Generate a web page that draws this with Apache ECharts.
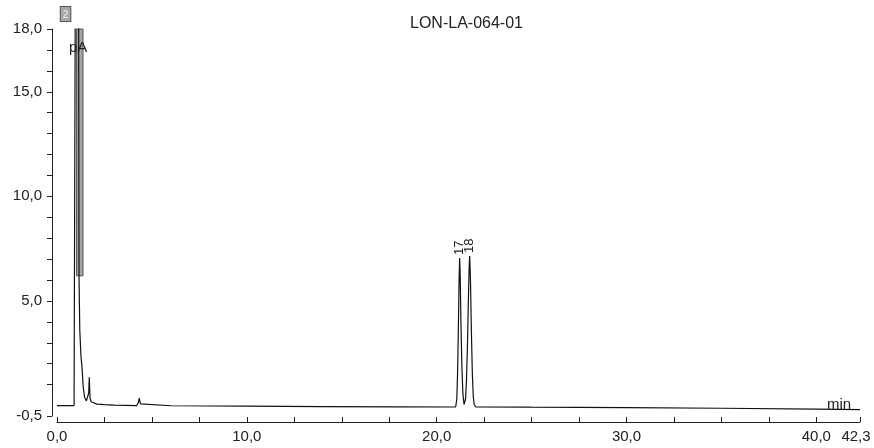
<!DOCTYPE html>
<html>
<head>
<meta charset="utf-8">
<script src="https://cdn.jsdelivr.net/npm/echarts@6/dist/echarts.min.js"></script>
<style>
  html, body { margin: 0; padding: 0; background: #fff; }
  #chart { width: 874px; height: 448px; }
</style>
</head>
<body>
<div id="chart"></div>
<script>
// chromatogram trace: [time (min), signal (pA)]
const trace = [
  [0.0, 0.0], [0.9, 0.0], [0.94, 0.05], [0.96, 19.0], [1.14, 19.0], [1.16, 6.2],
  [1.2, 3.6], [1.26, 2.4], [1.32, 1.8], [1.38, 0.9], [1.45, 0.4], [1.55, 0.22],
  [1.62, 0.3], [1.67, 0.6], [1.7, 1.35], [1.74, 0.35], [1.8, 0.18], [1.9, 0.12],
  [2.1, 0.07], [2.5, 0.04], [3.0, 0.02], [4.2, 0.0], [4.28, 0.12], [4.33, 0.36],
  [4.4, 0.08], [4.5, 0.0], [6.0, -0.01], [10.0, -0.03], [14.0, -0.05], [18.0, -0.06],
  [21.0, -0.07], [21.06, 0.3], [21.1, 1.5], [21.14, 3.5], [21.18, 6.0], [21.21, 7.05],
  [21.24, 6.2], [21.28, 3.9], [21.33, 1.8], [21.38, 0.6], [21.44, 0.05], [21.47, -0.03],
  [21.52, 0.3], [21.57, 1.2], [21.62, 2.8], [21.67, 5.0], [21.71, 6.6], [21.74, 7.15],
  [21.78, 6.0], [21.83, 3.5], [21.88, 1.5], [21.93, 0.4], [21.98, 0.05], [22.05, -0.06],
  [25.0, -0.08], [30.0, -0.1], [35.0, -0.13], [40.0, -0.17], [42.3, -0.2]
]

// labelled peaks
const peakNames = ['17', '18']
const peakTimes = [21.21, 21.74]
const peakHeights = [7.05, 7.15]

// saturated solvent peak band (time range, signal range)
const solventBand = [[1.03, 6.2], [1.37, 18.0]]

// axes
const xMin = 0
const xMax = 42.3
const yMin = -0.5
const yMax = 18
const xLabels = [0, 10, 20, 30, 40, 42.3]
const xTicks = [0, 2.5, 5, 7.5, 10, 12.5, 15, 17.5, 20, 22.5, 25, 27.5, 30, 32.5, 35, 37.5, 40, 42.3]
const yLabels = [-0.5, 5, 10, 15, 18]
const yTicks = [-0.5, 1, 2, 3, 4, 5, 6, 7, 8, 9, 10, 11, 12, 13, 14, 15, 16, 17, 18]

const fmt = v => v.toFixed(1).replace('.', ',')
const ink = '#222'
const font = 'Liberation Sans'

const chart = echarts.init(document.getElementById('chart'))
chart.setOption({
  animation: false,
  textStyle: { fontFamily: font },
  title: [
    { text: 'LON-LA-064-01', left: 405, top: 11,
      textStyle: { fontSize: 16, fontWeight: 'normal', color: ink, fontFamily: font } },
    { text: 'pA', left: 64, top: 35,
      textStyle: { fontSize: 15, fontWeight: 'normal', color: ink, fontFamily: font } },
    { text: 'min', left: 822, top: 392,
      textStyle: { fontSize: 15, fontWeight: 'normal', color: ink, fontFamily: font } }
  ],
  grid: { left: 57, right: 14, top: 29, bottom: 32, outerBoundsMode: 'none', containLabel: false },
  xAxis: {
    type: 'value', min: xMin, max: xMax, offset: 6,
    splitLine: { show: false },
    axisLine: { onZero: false, lineStyle: { color: ink, width: 1 } },
    axisTick: { inside: true, length: 5, customValues: xTicks, lineStyle: { color: ink } },
    axisLabel: {
      customValues: xLabels, margin: 7, color: ink, fontSize: 15, fontFamily: font,
      formatter: v => v === xMax ? '{e|' + fmt(v) + '}' : fmt(v),
      rich: { e: { padding: [0, 8, 0, 0], fontSize: 15, color: ink, fontFamily: font } }
    }
  },
  yAxis: {
    type: 'value', min: yMin, max: yMax, offset: 5,
    splitLine: { show: false },
    axisLine: { show: true, onZero: false, lineStyle: { color: ink, width: 1 } },
    axisTick: { show: true, length: 5, customValues: yTicks, lineStyle: { color: ink } },
    axisLabel: { customValues: yLabels, margin: 10, color: ink, fontSize: 15, fontFamily: font, formatter: fmt }
  },
  series: [{
    type: 'line',
    data: trace,
    showSymbol: false,
    lineStyle: { color: '#111', width: 1.2 },
    markArea: {
      silent: true,
      itemStyle: { color: '#a4a4a4', borderColor: '#555', borderWidth: 1 },
      data: [[{ coord: solventBand[0] }, { coord: solventBand[1] }]]
    },
    markPoint: {
      symbol: 'circle', symbolSize: 0, silent: true,
      label: {
        show: true, rotate: 90, position: 'top', distance: 3,
        align: 'left', verticalAlign: 'middle',
        color: ink, fontSize: 13, fontFamily: font,
        formatter: p => p.name
      },
      data: peakNames.map((n, i) => ({ name: n, coord: [peakTimes[i], peakHeights[i]] })).concat([{
        name: '2', coord: [0.45, yMax],
        label: {
          rotate: 0, position: 'top', align: 'center', verticalAlign: 'bottom', distance: 8,
          backgroundColor: '#a8a8a8', borderColor: '#555', borderWidth: 1,
          padding: [3, 2, 1, 2], fontSize: 10, color: '#eee'
        }
      }])
    }
  }]
})
</script>
</body>
</html>
